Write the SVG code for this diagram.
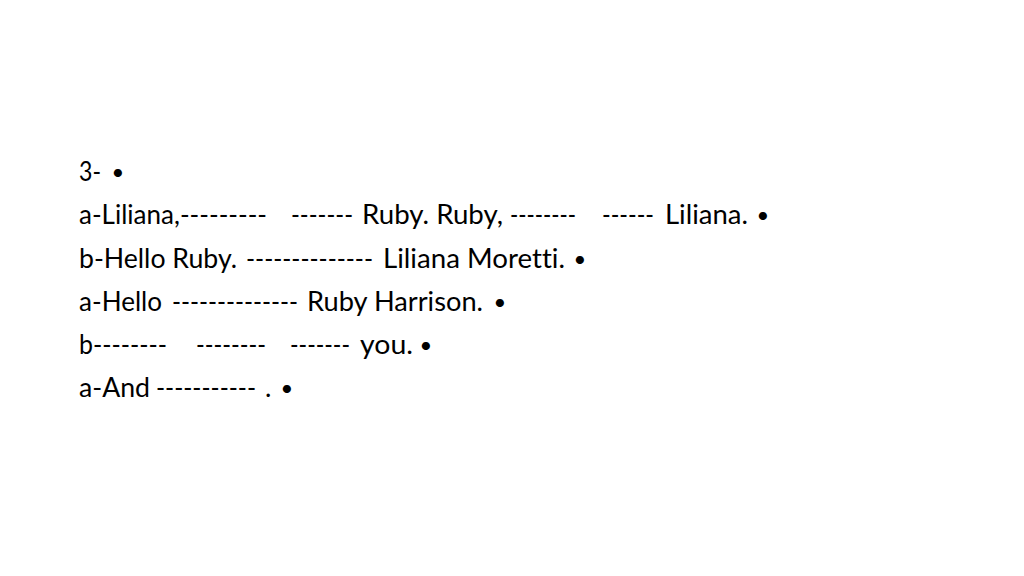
<svg xmlns="http://www.w3.org/2000/svg" width="1024" height="576" viewBox="0 0 1024 576">
<style>
text{font-family:Lato,"Open Sans","Liberation Sans",sans-serif;font-size:27px;fill:#000;font-variant-ligatures:none;font-feature-settings:"liga" 0}
.b{text-anchor:middle;font-size:22px}
</style>
<rect width="1024" height="576" fill="#fff"/>
<g id="line1">
<text x="79" y="181" textLength="22" lengthAdjust="spacingAndGlyphs">3-</text>
<text class="b" x="118" y="180">•</text>
</g>
<g id="line2">
<text x="79" y="224" textLength="188" lengthAdjust="spacingAndGlyphs">a-Liliana,---------</text>
<text x="291" y="224" textLength="62" lengthAdjust="spacingAndGlyphs">-------</text>
<text x="362" y="224" textLength="141" lengthAdjust="spacingAndGlyphs">Ruby. Ruby,</text>
<text x="510" y="224" textLength="66" lengthAdjust="spacingAndGlyphs">--------</text>
<text x="602" y="224" textLength="52" lengthAdjust="spacingAndGlyphs">------</text>
<text x="665" y="224" textLength="83" lengthAdjust="spacingAndGlyphs">Liliana.</text>
<text class="b" x="763" y="223">•</text>
</g>
<g id="line3">
<text x="79" y="268" textLength="158" lengthAdjust="spacingAndGlyphs">b-Hello Ruby.</text>
<text x="246" y="268" textLength="127" lengthAdjust="spacingAndGlyphs">--------------</text>
<text x="383" y="268" textLength="182" lengthAdjust="spacingAndGlyphs">Liliana Moretti.</text>
<text class="b" x="580" y="267">•</text>
</g>
<g id="line4">
<text x="79" y="311" textLength="83" lengthAdjust="spacingAndGlyphs">a-Hello</text>
<text x="172" y="311" textLength="126" lengthAdjust="spacingAndGlyphs">--------------</text>
<text x="307" y="311" textLength="176" lengthAdjust="spacingAndGlyphs">Ruby Harrison.</text>
<text class="b" x="500" y="310">•</text>
</g>
<g id="line5">
<text x="79" y="354" textLength="88" lengthAdjust="spacingAndGlyphs">b--------</text>
<text x="196" y="354" textLength="70" lengthAdjust="spacingAndGlyphs">--------</text>
<text x="290" y="354" textLength="60" lengthAdjust="spacingAndGlyphs">-------</text>
<text x="360" y="354" textLength="53" lengthAdjust="spacingAndGlyphs">you.</text>
<text class="b" x="426" y="353">•</text>
</g>
<g id="line6">
<text x="79" y="397" textLength="71" lengthAdjust="spacingAndGlyphs">a-And</text>
<text x="156" y="397" textLength="100" lengthAdjust="spacingAndGlyphs">-----------</text>
<text x="265" y="397">.</text>
<text class="b" x="287" y="396">•</text>
</g>
</svg>
